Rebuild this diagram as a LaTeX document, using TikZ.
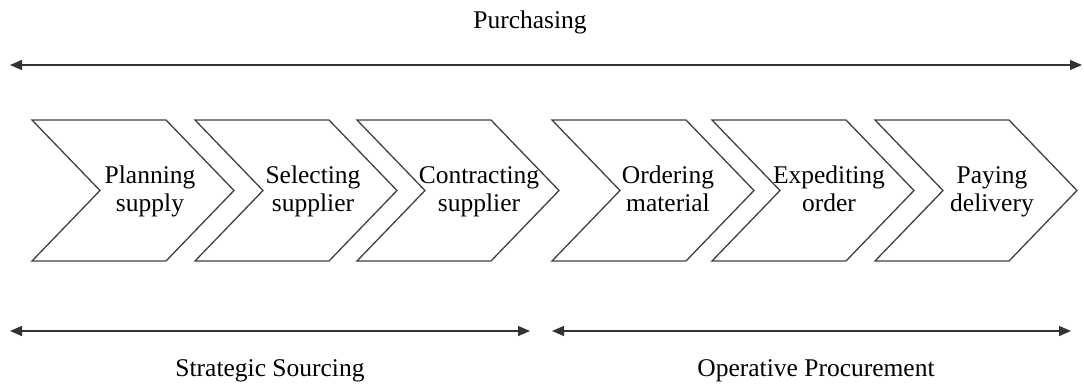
\documentclass[tikz,border=0pt]{standalone}
\usepackage{fontspec}
\setmainfont{Liberation Serif}
\usetikzlibrary{arrows.meta}
\tikzset{
  chev/.style={draw=black!75, line width=1.3pt, line join=miter},
  span/.style={draw=black!80, line width=1.3pt, {Triangle[length=12pt,width=10pt]}-{Triangle[length=12pt,width=10pt]}},
  lbl/.style={font=\fontsize{25.5}{28}\selectfont, inner sep=0pt},
  step label/.style={lbl, align=center, text height=45.5pt, text depth=5.5pt}
}
\begin{document}
\begin{tikzpicture}[x=1pt,y=-1pt]
\useasboundingbox (0,0) rectangle (1084,389);
% top span
\coordinate (pl) at (10,65);
\coordinate (pr) at (1082,65);
\draw[span] (pl) -- (pr);
\node[lbl,anchor=base] (purch) at (530,28) {Purchasing};
% chevrons
\draw[chev] (32,120) -- ++(134,0) -- ++(68,70.5) -- ++(-68,70.5) -- ++(-134,0) -- ++(68,-70.5) -- cycle;
\draw[chev] (195,120) -- ++(134,0) -- ++(68,70.5) -- ++(-68,70.5) -- ++(-134,0) -- ++(68,-70.5) -- cycle;
\draw[chev] (357,120) -- ++(134,0) -- ++(68,70.5) -- ++(-68,70.5) -- ++(-134,0) -- ++(68,-70.5) -- cycle;
\draw[chev] (552,120) -- ++(134,0) -- ++(68,70.5) -- ++(-68,70.5) -- ++(-134,0) -- ++(68,-70.5) -- cycle;
\draw[chev] (712,120) -- ++(134,0) -- ++(68,70.5) -- ++(-68,70.5) -- ++(-134,0) -- ++(68,-70.5) -- cycle;
\draw[chev] (875,120) -- ++(134,0) -- ++(68,70.5) -- ++(-68,70.5) -- ++(-134,0) -- ++(68,-70.5) -- cycle;
\node[step label] (plan) at (150,191.5) {Planning\\supply};
\node[step label] (sel) at (313,191.5) {Selecting\\supplier};
\node[step label] (con) at (479,191.5) {Contracting\\supplier};
\node[step label] (ord) at (668,191.5) {Ordering\\material};
\node[step label] (exp) at (829,191.5) {Expediting\\order};
\node[step label] (pay) at (992,191.5) {Paying\\delivery};
% bottom spans
\coordinate (sl) at (10,331);
\coordinate (sr) at (530,331);
\coordinate (ol) at (552,331);
\coordinate (or) at (1071,331);
\draw[span] (sl) -- (sr);
\draw[span] (ol) -- (or);
\node[lbl,anchor=base] (strat) at (270,376) {Strategic Sourcing};
\node[lbl,anchor=base] (oper) at (816,376) {Operative Procurement};
\end{tikzpicture}
\end{document}
